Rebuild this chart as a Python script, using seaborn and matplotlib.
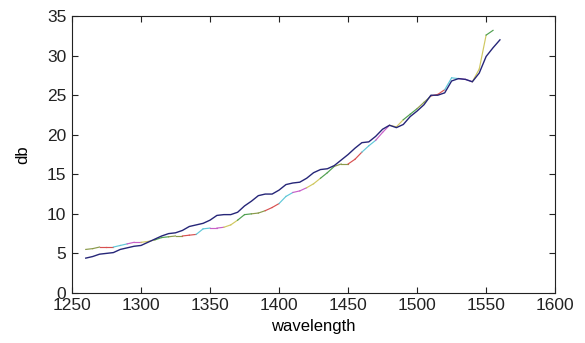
import numpy as np
import pandas as pd
import seaborn as sns
import matplotlib
matplotlib.use("Agg")
import matplotlib.pyplot as plt

# wavelength grid (nm)
wavelength = list(range(1260, 1565, 5))

# upper / dark blue trace (db)
blue_db = [4.4, 4.6, 4.9, 5.0, 5.1, 5.5, 5.7, 5.9, 6.0, 6.4,
           6.8, 7.2, 7.5, 7.6, 7.9, 8.4, 8.6, 8.8, 9.2, 9.8,
           9.9, 9.9, 10.2, 11.0, 11.6, 12.3, 12.5, 12.5, 13.0, 13.7,
           13.9, 14.0, 14.5, 15.2, 15.6, 15.7, 16.1, 16.8, 17.5, 18.3,
           19.0, 19.1, 19.8, 20.7, 21.2, 20.9, 21.3, 22.3, 23.0, 23.8,
           25.0, 25.0, 25.3, 26.8, 27.1, 27.0, 26.7, 27.8, 29.9, 31.0,
           32.0]

# overlapping multi-coloured traces (db)
other_db = [5.5, 5.6, 5.8, 5.8, 5.8, 6.0, 6.2, 6.4, 6.4, 6.5,
            6.7, 7.0, 7.1, 7.2, 7.2, 7.3, 7.4, 8.1, 8.2, 8.2,
            8.3, 8.6, 9.2, 9.9, 10.0, 10.1, 10.4, 10.8, 11.3, 12.2,
            12.7, 12.9, 13.3, 13.8, 14.5, 15.2, 16.0, 16.3, 16.3, 16.9,
            17.8, 18.6, 19.3, 20.3, 21.2, 21.0, 21.9, 22.6, 23.3, 24.1,
            24.9, 25.1, 25.7, 27.2, 27.1, 27.0, 26.7, 28.3, 32.6, 33.2,
            np.nan]

seg_colors = ["#8a9a4a", "#d85050", "#60c8d8", "#c860c8", "#d0c860", "#50a050"]

fig = plt.figure(figsize=(5.85, 3.43), dpi=100)
ax = fig.add_axes([0.123, 0.146, 0.826, 0.807])

# multi-coloured trace, drawn as short coloured pieces
rows = []
for i in range(len(wavelength) - 1):
    for j in (i, i + 1):
        rows.append({"wavelength": wavelength[j], "db": other_db[j], "seg": i})
seg_df = pd.DataFrame(rows).dropna()
pal = {s: seg_colors[(s // 2) % len(seg_colors)] for s in seg_df["seg"].unique()}
sns.lineplot(data=seg_df, x="wavelength", y="db", hue="seg", palette=pal,
             linewidth=0.85, legend=False, ax=ax, estimator=None, sort=False)

df = pd.DataFrame({"wavelength": wavelength, "db": blue_db})
sns.lineplot(data=df, x="wavelength", y="db", color="#262678", linewidth=1.0,
             ax=ax, estimator=None)

ax.set_xlim(1250, 1600)
ax.set_ylim(0, 35)
ax.set_xticks(range(1250, 1601, 50))
ax.set_yticks(range(0, 36, 5))
ax.tick_params(direction="in", top=True, right=True, length=4, width=0.8,
               labelsize=12.5, pad=4, colors="#222222")
for t in ax.get_xticklabels() + ax.get_yticklabels():
    t.set_fontfamily("Liberation Sans")
for sp in ax.spines.values():
    sp.set_linewidth(0.8)
    sp.set_color("#222222")
ax.set_xlabel("wavelength", fontsize=12, fontfamily="Liberation Sans", labelpad=4)
ax.set_ylabel("db", fontsize=12, fontfamily="Liberation Sans", labelpad=12)

fig.savefig("out.png", dpi=100)
